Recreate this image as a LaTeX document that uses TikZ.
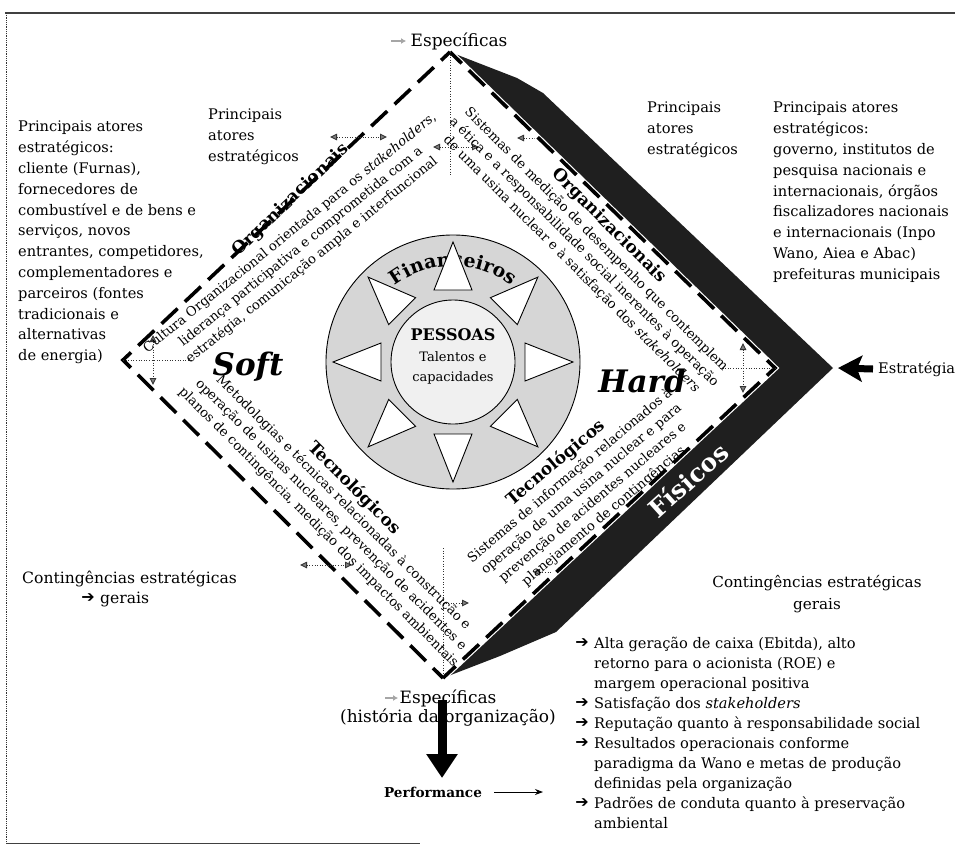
\documentclass[tikz,border=0pt]{standalone}
\usepackage{fontspec}
\setmainfont{DejaVu Serif}
\newfontfamily\arrfont{DejaVu Sans}
\usetikzlibrary{arrows.meta,decorations.text}
\newcommand\fBody{\fontsize{14.6}{20.8}\selectfont}
\newcommand\fList{\fontsize{14.6}{20}\selectfont}
\newcommand\fRot{\fontsize{13.2}{17.5}\selectfont}
\newcommand\fTitle{\fontsize{17}{19}\selectfont\bfseries}
\newcommand\fEsp{\fontsize{17}{19}\selectfont}
\begin{document}
\begin{tikzpicture}[x=1pt,y=1pt,
  dashside/.style={line width=3.6pt, line join=miter, dash pattern=on 22pt off 10pt},
  dotline/.style={line width=0.9pt, black!80, dash pattern=on 1pt off 1.6pt},
  dotarr/.style={dotline, {Triangle[length=7pt,width=6.5pt,fill=black!50]}-{Triangle[length=7pt,width=6.5pt,fill=black!50]}},
  dotarrR/.style={dotline, -{Triangle[length=7pt,width=6.5pt,fill=black!50]}},
  txt/.style={inner sep=0pt, font=\fBody},
  rot/.style={inner sep=0pt, font=\fRot, align=center},
  ttl/.style={inner sep=0pt, font=\fTitle},
  bigit/.style={inner sep=0pt, font=\fontsize{31}{32}\selectfont\bfseries\itshape},
  arr/.style={inner sep=0pt, font=\arrfont\fontsize{16}{16}\selectfont},
  grayarr/.style={black!35, line width=1.6pt, -{Latex[length=5pt,width=6pt]}}
]
\useasboundingbox (0,0) rectangle (955,-854);
\fill[white] (0,0) rectangle (955,-854);

% frame
\draw[line width=1.1pt, black!75] (5,-13) -- (955,-13);
\draw[densely dotted, line width=0.8pt, black!80] (6,-13) -- (6,-843);
\draw[line width=0.9pt, black!75] (6,-843) -- (420,-843);

% main coordinates
\coordinate (T) at (450,-52);
\coordinate (L) at (123,-360);
\coordinate (B) at (443,-678);
\coordinate (R) at (775,-368);
\coordinate (Ro) at (833,-368);
\coordinate (C) at (453,-362);

% ring
\filldraw[fill=black!16, draw=black, line width=0.9pt] (C) circle[radius=127];
\path[decorate, decoration={text along path, text align=center,
  text={|\fontsize{19}{19}\selectfont\bfseries|Financeiros}}]
  (C) ++(150:96) arc[start angle=150, end angle=30, radius=96];
\foreach \a in {0,45,...,315}{
  \begin{scope}[shift={(C)}, rotate=\a]
    \filldraw[fill=white, draw=black, line width=0.9pt] (120,0) -- (72,19) -- (72,-19) -- cycle;
  \end{scope}
}
\filldraw[fill=black!6, draw=black, line width=0.9pt] (C) circle[radius=62];
\node[inner sep=0pt, font=\fontsize{16}{18}\selectfont\bfseries] (pess) at (453,-335) {PESSOAS};
\node[inner sep=0pt, font=\fontsize{13}{20}\selectfont, align=center] (tal) at (453,-368) {Talentos e\\capacidades};

% dotted arrows running under the band
\coordinate (tb1) at (517,-138); \coordinate (tb2) at (575,-138);
\draw[dotarr] (tb1) -- (tb2);
\coordinate (bb1) at (533,-572); \coordinate (bb2) at (590,-572);
\draw[dotarr] (bb1) -- (bb2);

% black band (Fisicos)
\fill[black!88] (T) -- (517,-78) -- (543,-93) -- (Ro) -- (556,-632) -- (500,-656) -- (B) -- (R) -- cycle;
\draw[white, line width=6pt, line join=miter] (T) -- (R) -- (B);
\draw[dashside, dash phase=5.7pt] (T) -- (R) -- (B);
\draw[dashside, dash phase=9.8pt] (T) -- (L) -- (B);

% dotted marks
\coordinate (tv) at (450,-175);
\draw[dotline] (T) -- (tv);
\coordinate (th1) at (433,-147); \coordinate (th2) at (479,-147);
\draw[dotarr] (th1) -- (th2);
\coordinate (ta1) at (330,-137); \coordinate (ta2) at (387,-137);
\draw[dotarr] (ta1) -- (ta2);
\coordinate (lh) at (192,-360);
\draw[dotline] (L) -- (lh);
\coordinate (lv1) at (153,-335); \coordinate (lv2) at (153,-385);
\draw[dotarr] (lv1) -- (lv2);
\coordinate (rh) at (720,-368);
\draw[dotline] (rh) -- (R);
\coordinate (rv1) at (743,-343); \coordinate (rv2) at (743,-393);
\draw[dotarr] (rv1) -- (rv2);
\coordinate (bv) at (443,-548);
\draw[dotline] (bv) -- (B);
\coordinate (bh1) at (443,-603); \coordinate (bh2) at (469,-603);
\draw[dotarrR] (bh1) -- (bh2);
\coordinate (ba1) at (300,-565); \coordinate (ba2) at (352,-565);
\draw[dotarr] (ba1) -- (ba2);

% rotated texts
\node[ttl, rotate=44] (orgA) at (291,-200) {Organizacionais};
\node[rot, rotate=39] (txtA) at (301,-247) {Cultura Organizacional orientada para os \textit{stakeholders},\\liderança participativa e comprometida com a\\estratégia, comunicação ampla e interfuncional};
\node[ttl, rotate=-45] (orgB) at (609,-226) {Organizacionais};
\node[rot, rotate=-45] (txtB) at (584,-252) {Sistemas de medição de desempenho que contemplem\\a ética e a responsabilidade social inerentes à operação\\de uma usina nuclear e à satisfação dos \textit{stakeholders}};
\node[ttl, rotate=-45] (tecC) at (354,-488) {Tecnológicos};
\node[rot, rotate=-45] (txtC) at (331,-515) {Metodologias e técnicas relacionadas à construção e\\operação de usinas nucleares, prevenção de acidentes e\\planos de contingência, medição dos impactos ambientais};
\node[ttl, rotate=40] (tecD) at (556,-463) {Tecnológicos};
\node[rot, rotate=40] (txtD) at (587,-496) {Sistemas de informação relacionados à\\operação de uma usina nuclear e para\\prevenção de acidentes nucleares e\\planejamento de contingências};

\node[bigit] (soft) at (248,-367) {Soft};
\node[bigit] (hard) at (642,-381) {Hard};
\node[inner sep=0pt, white, font=\fontsize{25}{26}\selectfont\bfseries, rotate=42] (fis) at (688,-480) {Físicos};

% side texts
\node[txt, align=left, anchor=north west] (leftblk) at (18,-121) {Principais atores\\estratégicos:\\cliente (Furnas),\\fornecedores de\\combustível e de bens e\\serviços, novos\\entrantes, competidores,\\complementadores e\\parceiros (fontes\\tradicionais e\\alternativas\\de energia)};
\node[txt, align=left, anchor=west] (pmA) at (208,-137) {Principais\\atores\\estratégicos};
\node[txt, align=left, anchor=west] (pmB) at (647,-130) {Principais\\atores\\estratégicos};
\node[txt, align=left, anchor=north west] (rightblk) at (773,-102) {Principais atores\\estratégicos:\\governo, institutos de\\pesquisa nacionais e\\internacionais, órgãos\\fiscalizadores nacionais\\e internacionais (Inpo\\Wano, Aiea e Abac)\\prefeituras municipais};

\node[inner sep=0pt, font=\fontsize{15.6}{20}\selectfont, anchor=base west] (contL) at (22,-583) {Contingências estratégicas};
\node[inner sep=0pt, font=\fontsize{15.6}{20}\selectfont, anchor=base west] (gerL) at (100,-603) {gerais};
\node[arr] (arG) at (88,-598) {➔};
\node[inner sep=0pt, font=\fontsize{15.2}{22}\selectfont, align=center] (contR) at (817,-594) {Contingências estratégicas\\gerais};

% Estrategia
\node[txt, anchor=west] (estr) at (878,-369) {Estratégia};
\coordinate (etip) at (838,-368);
\draw[line width=7pt, -{Stealth[length=24pt,width=26pt,inset=5pt]}] ([xshift=-5pt]estr.west) -- (etip);

% Especificas
\node[inner sep=0pt, font=\fEsp] (esp1) at (459,-41) {Específicas};
\coordinate (g1a) at (391,-41); \coordinate (g1b) at (406,-41);
\draw[grayarr] (g1a) -- (g1b);
\node[inner sep=0pt, font=\fEsp, align=center] (esp2) at (448,-708) {Específicas\\(história da organização)};
\coordinate (g2a) at (385,-698); \coordinate (g2b) at (398,-698);
\draw[grayarr] (g2a) -- (g2b);

% performance
\coordinate (dtop) at (442,-700);
\coordinate (dtip) at (442,-778);
\draw[line width=9pt, -{Triangle[length=24pt,width=30pt]}] (dtop) -- (dtip);
\node[inner sep=0pt, font=\fontsize{13.6}{16}\selectfont\bfseries] (perf) at (433,-792) {Performance};
\coordinate (pend) at (543,-792);
\draw[line width=0.9pt, -{Stealth[length=8pt,width=6pt]}] ([xshift=12pt]perf.east) -- (pend);

% list
\node[inner sep=0pt, font=\fList, align=left, anchor=north west] (list) at (594,-637.4) {Alta geração de caixa (Ebitda), alto\\retorno para o acionista (ROE) e\\margem operacional positiva\\Satisfação dos \textit{stakeholders}\\Reputação quanto à responsabilidade social\\Resultados operacionais conforme\\paradigma da Wano e metas de produção\\definidas pela organização\\Padrões de conduta quanto à preservação\\ambiental};
\foreach \k/\yy in {1/643,4/703,5/723,6/743,9/803}
  \node[arr] (ar\k) at (582,-\yy) {➔};
\end{tikzpicture}
\end{document}
